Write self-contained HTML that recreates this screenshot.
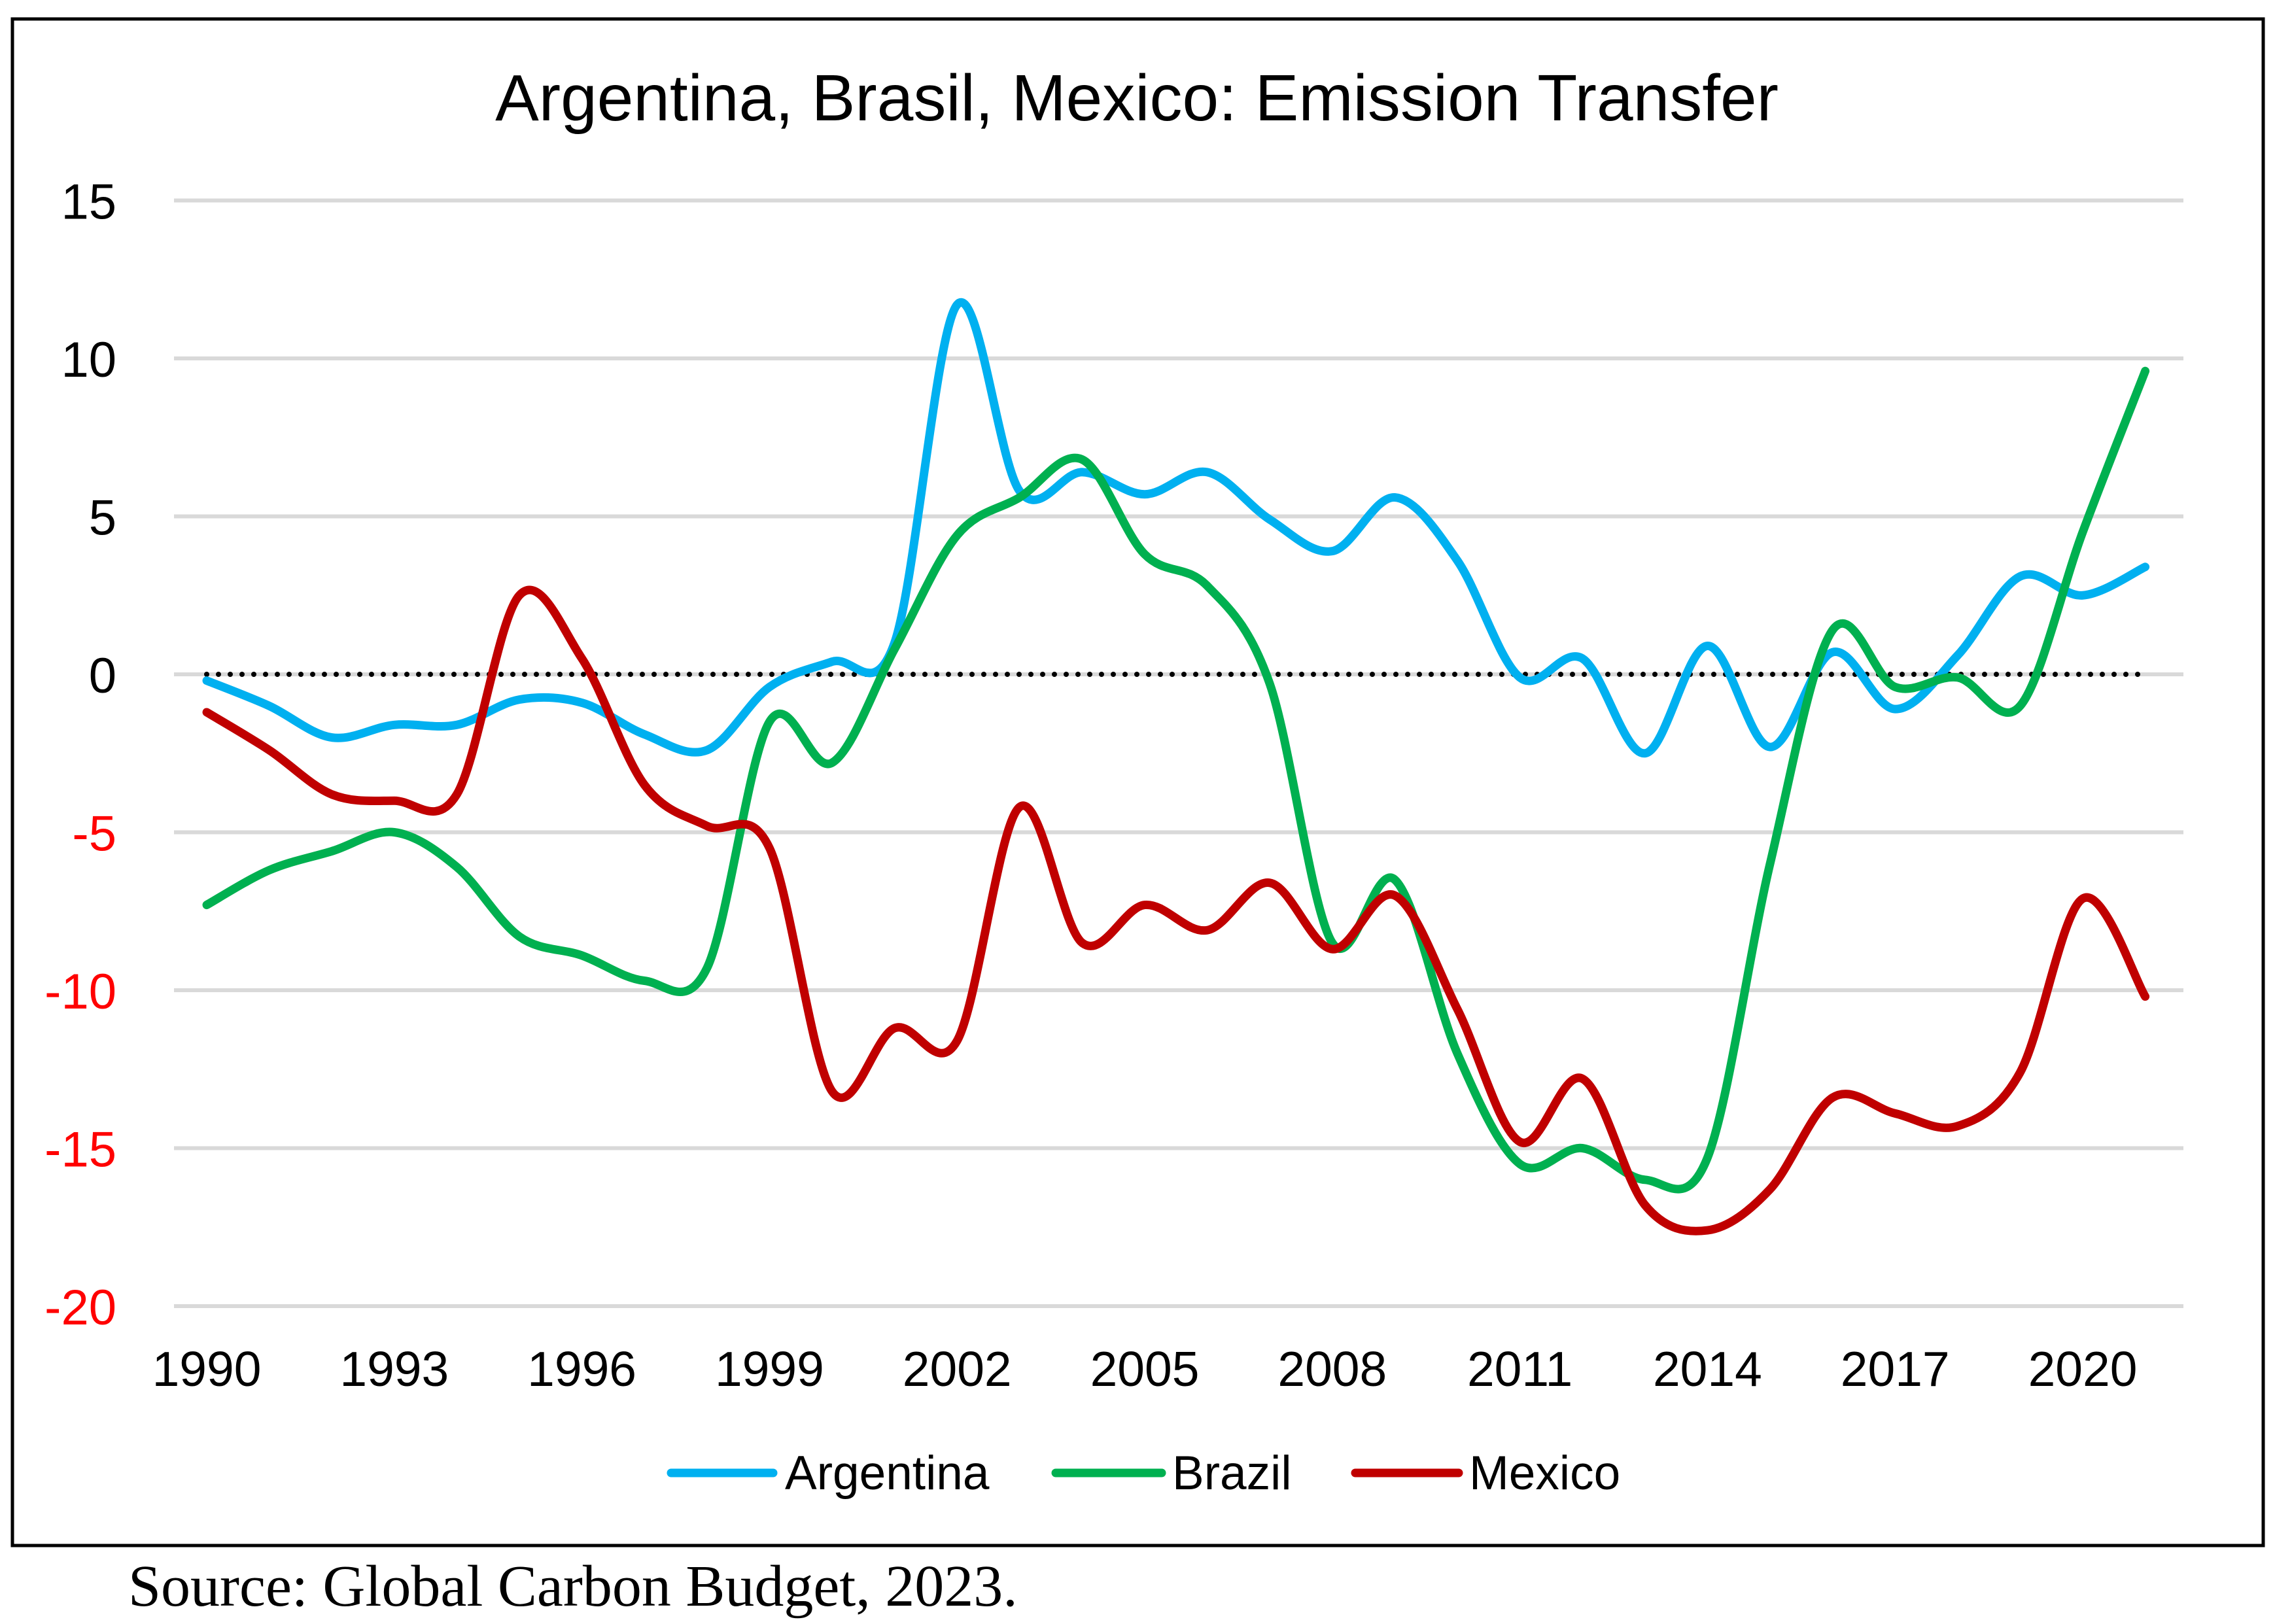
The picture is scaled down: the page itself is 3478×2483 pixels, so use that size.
<!DOCTYPE html>
<html><head><meta charset="utf-8"><style>
html,body{margin:0;padding:0;background:#fff;}
svg{display:block;}
</style></head><body>
<svg id="chart" width="3478" height="2483" viewBox="0 0 3478 2483" xmlns="http://www.w3.org/2000/svg">
<rect x="19" y="29" width="3441" height="2334" fill="#fff" stroke="#000" stroke-width="5"/>
<text x="1738" y="184" text-anchor="middle" font-family="Liberation Sans, sans-serif" font-size="100">Argentina, Brasil, Mexico: Emission Transfer</text>
<g id="grid"></g>
<g id="yticks"></g>
<g id="xticks"></g>
<g id="series"></g>
<g font-family="Liberation Sans, sans-serif" font-size="73">
 <line x1="1026" y1="2252" x2="1182" y2="2252" stroke="#00B0F0" stroke-width="13" stroke-linecap="round"/>
 <text x="1200" y="2277">Argentina</text>
 <line x1="1614" y1="2252" x2="1776" y2="2252" stroke="#00B050" stroke-width="13" stroke-linecap="round"/>
 <text x="1792" y="2277">Brazil</text>
 <line x1="2072" y1="2252" x2="2230" y2="2252" stroke="#C00000" stroke-width="13" stroke-linecap="round"/>
 <text x="2246" y="2277">Mexico</text>
</g>
<text x="196" y="2455" font-family="Liberation Serif, serif" font-size="90">Source: Global Carbon Budget, 2023.</text>
</svg>
<script>
const years = [];
for (let y = 1990; y <= 2021; y++) years.push(y);
const yTicks = [15, 10, 5, 0, -5, -10, -15, -20];
const xTickLabels = [1990, 1993, 1996, 1999, 2002, 2005, 2008, 2011, 2014, 2017, 2020];
const argentina = [-0.2,-1,-2,-1.6,-1.6,-0.8,-0.9,-1.9,-2.4,-0.4,0.4,1,11.7,5.8,6.4,5.7,6.4,4.9,3.9,5.6,3.6,-0.1,0.5,-2.5,0.9,-2.3,0.7,-1.1,0.6,3.1,2.5,3.4];
const brazil = [-7.3,-6.2,-5.6,-5.0,-6.1,-8.3,-8.9,-9.7,-9.3,-1.5,-2.8,0.8,4.4,5.6,6.8,3.8,2.8,-0.3,-8.5,-6.5,-12,-15.5,-15,-16,-15.3,-6,1.4,-0.4,-0.1,-1,4.5,9.6];
const mexico = [-1.2,-2.4,-3.8,-4,-3.8,2.5,0.5,-3.5,-4.8,-5.5,-13.2,-11.2,-11.6,-4.2,-8.5,-7.3,-8.1,-6.6,-8.7,-7,-10.6,-14.8,-12.8,-16.8,-17.6,-16.3,-13.4,-13.9,-14.3,-12.6,-7.1,-10.2];

const NS = 'http://www.w3.org/2000/svg';
const xScale = yr => 316 + (yr - 1990) * 95.6;
const yScale = v => 1031 - v * 48.3;
function mk(tag, attrs, parent) {
  const e = document.createElementNS(NS, tag);
  for (const k in attrs) e.setAttribute(k, attrs[k]);
  parent.appendChild(e);
  return e;
}
const grid = document.getElementById('grid');
const yt = document.getElementById('yticks');
yTicks.forEach(v => {
  const l = mk('line', {x1: 266, x2: 3338, y1: yScale(v), y2: yScale(v), stroke: '#D9D9D9', 'stroke-width': 6}, grid);
  
  
  const t = mk('text', {x: 178, y: yScale(v) + 28, 'text-anchor': 'end', 'font-family': 'Liberation Sans, sans-serif', 'font-size': 76, fill: v < 0 ? '#FF0000' : '#000'}, yt);
  t.textContent = v;
  
  
});
const xt = document.getElementById('xticks');
xTickLabels.forEach(yr => {
  const t = mk('text', {x: xScale(yr), y: 2119, 'text-anchor': 'middle', 'font-family': 'Liberation Sans, sans-serif', 'font-size': 75}, xt);
  t.textContent = yr;
  
  
});
const sg = document.getElementById('series');
const zl = mk('line', {x1: xScale(1990), x2: xScale(2021), y1: yScale(0), y2: yScale(0), stroke: '#000', 'stroke-width': 8, 'stroke-dasharray': '0 18', 'stroke-linecap': 'round'}, sg);


function smooth(vals) {
  const p = vals.map((v, i) => [xScale(years[i]), yScale(v)]);
  let d = 'M' + p[0][0] + ',' + p[0][1];
  for (let i = 0; i < p.length - 1; i++) {
    const p0 = p[Math.max(0, i - 1)], p1 = p[i], p2 = p[i + 1], p3 = p[Math.min(p.length - 1, i + 2)];
    const t = 1 / 6;
    const c1 = [p1[0] + (p2[0] - p0[0]) * t, p1[1] + (p2[1] - p0[1]) * t];
    const c2 = [p2[0] - (p3[0] - p1[0]) * t, p2[1] - (p3[1] - p1[1]) * t];
    d += ' C' + c1[0] + ',' + c1[1] + ' ' + c2[0] + ',' + c2[1] + ' ' + p2[0] + ',' + p2[1];
  }
  return d;
}
[[argentina, '#00B0F0', 'argentina-line'], [brazil, '#00B050', 'brazil-line'], [mexico, '#C00000', 'mexico-line']].forEach(s => {
  const path = mk('path', {d: smooth(s[0]), fill: 'none', stroke: s[1], 'stroke-width': 13, 'stroke-linejoin': 'round', 'stroke-linecap': 'round'}, sg);
  
  
});
</script>
</body></html>
